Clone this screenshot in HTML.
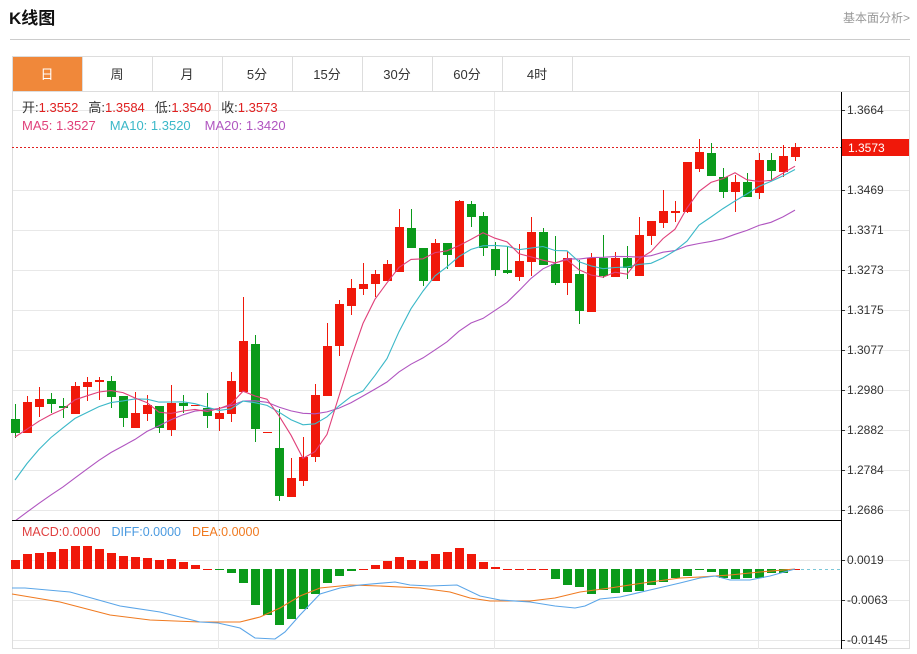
<!DOCTYPE html>
<html><head><meta charset="utf-8"><style>
body{margin:0;background:#fff;width:917px;height:649px;overflow:hidden;font-family:"Liberation Sans","Noto Sans CJK SC",sans-serif}
</style></head><body>
<svg id="s" width="917" height="649" xmlns="http://www.w3.org/2000/svg" font-family="Liberation Sans, Noto Sans CJK SC, sans-serif">
<text x="9" y="24" font-size="17" font-weight="bold" fill="#111">K线图</text>
<text x="910" y="22" font-size="12" fill="#999" text-anchor="end">基本面分析&gt;</text>
<line x1="10" y1="39.5" x2="910" y2="39.5" stroke="#ccc"/>
<rect x="12.5" y="56.5" width="897" height="592" fill="none" stroke="#ddd"/>
<line x1="12" y1="91.5" x2="910" y2="91.5" stroke="#ddd"/>
<rect x="13" y="57" width="69" height="34" fill="#f0883a"/>
<g id="tabs" font-size="13" text-anchor="middle" fill="#333"></g>
<g id="grid"></g>
<g id="cand"></g>
<g id="ma"></g>
<line x1="12" y1="520.5" x2="841" y2="520.5" stroke="#000"/>
<line x1="841.5" y1="92" x2="841.5" y2="649" stroke="#000"/>
<line x1="12" y1="147.5" x2="841" y2="147.5" stroke="#e02020" stroke-dasharray="2,2"/>
<rect x="842" y="139" width="67" height="17" fill="#f0180a"/>
<text x="848" y="152" font-size="12" fill="#fff">1.3573</text>
<line x1="795" y1="569.5" x2="841" y2="569.5" stroke="#7cc7d8" stroke-dasharray="3,3"/>
<g id="macd"></g>
<text font-size="13" y="112"><tspan x="22" fill="#333">开:</tspan><tspan fill="#e02020">1.3552</tspan><tspan fill="#333" dx="10">高:</tspan><tspan fill="#e02020">1.3584</tspan><tspan fill="#333" dx="10">低:</tspan><tspan fill="#e02020">1.3540</tspan><tspan fill="#333" dx="10">收:</tspan><tspan fill="#e02020">1.3573</tspan></text>
<text font-size="13" y="130"><tspan x="22" fill="#e0407a">MA5: 1.3527</tspan><tspan dx="14" fill="#3bb8c8">MA10: 1.3520</tspan><tspan dx="14" fill="#b055c0">MA20: 1.3420</tspan></text>
<text font-size="12.5" y="536"><tspan x="22" fill="#e04040">MACD:0.0000</tspan><tspan dx="11" fill="#4a9ae0">DIFF:0.0000</tspan><tspan dx="11" fill="#f07a20">DEA:0.0000</tspan></text>
</svg>
<script>
var NS="http://www.w3.org/2000/svg";
function el(p,t,a,txt){var e=document.createElementNS(NS,t);for(var k in a)e.setAttribute(k,a[k]);if(txt)e.textContent=txt;document.getElementById(p).appendChild(e);return e;}
var tabs=["日","周","月","5分","15分","30分","60分","4时"];
for(var i=0;i<8;i++){var x=12+70*i;el("tabs","text",{x:x+35,y:79,fill:i==0?"#fff":"#333"},tabs[i]);el("tabs","line",{x1:x+70.5,y1:57,x2:x+70.5,y2:91,stroke:"#ddd"});}
var labs=["1.3664","1.3469","1.3371","1.3273","1.3175","1.3077","1.2980","1.2882","1.2784","1.2686"];
var ys=[110,190,230,270,310,350,390,430,470,510];
for(var i=0;i<labs.length;i++){el("grid","line",{x1:12,y1:ys[i]+.5,x2:909,y2:ys[i]+.5,stroke:"#e8e8e8"});el("grid","line",{x1:841,y1:ys[i]+.5,x2:845,y2:ys[i]+.5,stroke:"#333"});el("grid","text",{x:847,y:ys[i]+4,"font-size":12,fill:"#333"},labs[i]);}
var ml=[["0.0019",560],["-0.0063",600],["-0.0145",640]];
ml.forEach(function(m){el("grid","line",{x1:12,y1:m[1]+.5,x2:909,y2:m[1]+.5,stroke:"#e8e8e8"});el("grid","line",{x1:841,y1:m[1]+.5,x2:845,y2:m[1]+.5,stroke:"#333"});el("grid","text",{x:847,y:m[1]+4,"font-size":12,fill:"#333"},m[0]);});
[218,494,758].forEach(function(x){el("grid","line",{x1:x+.5,y1:92,x2:x+.5,y2:649,stroke:"#e8e8e8"});});
el("grid","line",{x1:12.5,y1:92,x2:12.5,y2:649,stroke:"#ddd"});
var d="g 419 433 404 438|r 402 433 396 433|r 399 407 387 417|g 399 404 393 413|g 406 408 398 418|r 386 414 382 414|r 382 387 377 401|r 380 382 377 400|g 381 397 376 408|g 396 418 396 427|r 413 428 392 428|r 405 414 395 421|g 406 428 406 433|r 403 430 385 436|g 403 406 395 413|r 405 406 405 406|g 408 416 393 428|r 413 419 407 431|r 381 414 372 422|r 341 392 297 392|g 344 429 335 442|r 432 433 432 433|g 448 496 409 501|r 478 497 458 497|r 457 481 437 486|r 395 457 384 462|r 346 396 323 396|r 304 346 300 356|r 288 306 279 315|r 284 289 263 295|r 274 284 270 297|r 264 281 260 281|r 227 272 209 272|g 228 248 209 248|g 248 281 248 286|r 243 281 239 281|g 243 255 243 269|r 201 267 200 267|g 204 217 201 227|g 216 248 212 256|g 249 270 242 276|g 270 273 247 274|r 261 277 244 281|r 232 262 217 276|g 232 265 228 265|g 264 283 236 285|r 258 283 251 295|g 274 311 260 324|r 258 312 253 312|g 258 276 235 278|r 258 277 252 277|g 258 268 246 279|r 235 276 217 276|r 221 236 221 245|r 211 223 190 228|r 211 213 201 222|r 162 212 162 213|r 152 169 139 172|g 153 176 143 176|g 177 192 168 198|r 182 192 175 212|g 182 197 173 197|r 160 193 153 199|g 160 171 153 180|r 156 172 145 177|r 147 157 143 161".split("|");
var pre=[580,576,572,568,564,560,556,552,548,544,567,540,523,505,480,441,439,437,435];
var closes=pre.slice();
d.forEach(function(s,i){var a=s.split(" "),t=+a[1],b=+a[2],h=+a[3],l=+a[4],x=15+12*i,c=a[0]=="r"?"#f0180a":"#0a9a1a";
el("cand","line",{x1:x+.5,y1:h,x2:x+.5,y2:l,stroke:c});el("cand","rect",{x:x-4,y:t,width:9,height:Math.max(1,b-t),fill:c});
closes.push(a[0]=="r"?t:b);});
function ma(n,col){var pts=[];for(var i=0;i<d.length;i++){var k=i+pre.length,s=0;for(var j=0;j<n;j++)s+=closes[k-j];var y=s/n;pts.push((15+12*i)+","+y.toFixed(1));}
el("ma","polyline",{points:pts.join(" "),fill:"none",stroke:col,"stroke-width":1.1,"clip-path":"url(#cp)"});}
var defs=el("ma","clipPath",{id:"cp"});var r=document.createElementNS(NS,"rect");r.setAttribute("x",12);r.setAttribute("y",92);r.setAttribute("width",829);r.setAttribute("height",428);defs.appendChild(r);
ma(20,"#b055c0");ma(10,"#3bb8c8");ma(5,"#e0407a");
var hist=[560,554,553,552,549,546,546,549,553,556,557,558,560,559,562,565,569,570,573,583,605,615,625,619,609,594,583,576,571,569,565,561,557,560,561,554,552,548,554,562,567,569,569,569,569,579,585,587,594,590,593,592,591,585,582,578,576,570,572,578,579,578,578,573,573,569];
hist.forEach(function(v,i){var x=15+12*i;var up=v<=569;var y=up?v:569,h=Math.abs(569-v);if(h<1){h=1;y=569;}
el("macd","rect",{x:x-4,y:y,width:9,height:h,fill:up?"#f0180a":"#0a9a1a"});});
el("macd","polyline",{points:"12,594 60,602 110,615 150,620 200,622 240,622 260,617 280,608 300,596 320,588 350,585 380,586 420,588 450,592 470,598 490,601 530,601 555,598 580,592 610,588 650,582 680,578 700,577 730,575 760,572 795,569",fill:"none",stroke:"#f07a20","stroke-width":1.1});
el("macd","polyline",{points:"12,588 25,588 70,592 120,606 160,612 200,622 218,623 240,628 255,638 275,639 285,632 300,615 320,594 340,588 360,585 395,582 410,585 430,586 457,585 480,596 500,600 530,602 555,606 575,608 585,606 600,599 620,597 650,590 680,583 700,578 715,576 730,580 750,580 760,578 770,576 795,569",fill:"none",stroke:"#5aa5e8","stroke-width":1.1});
</script>
</body></html>
